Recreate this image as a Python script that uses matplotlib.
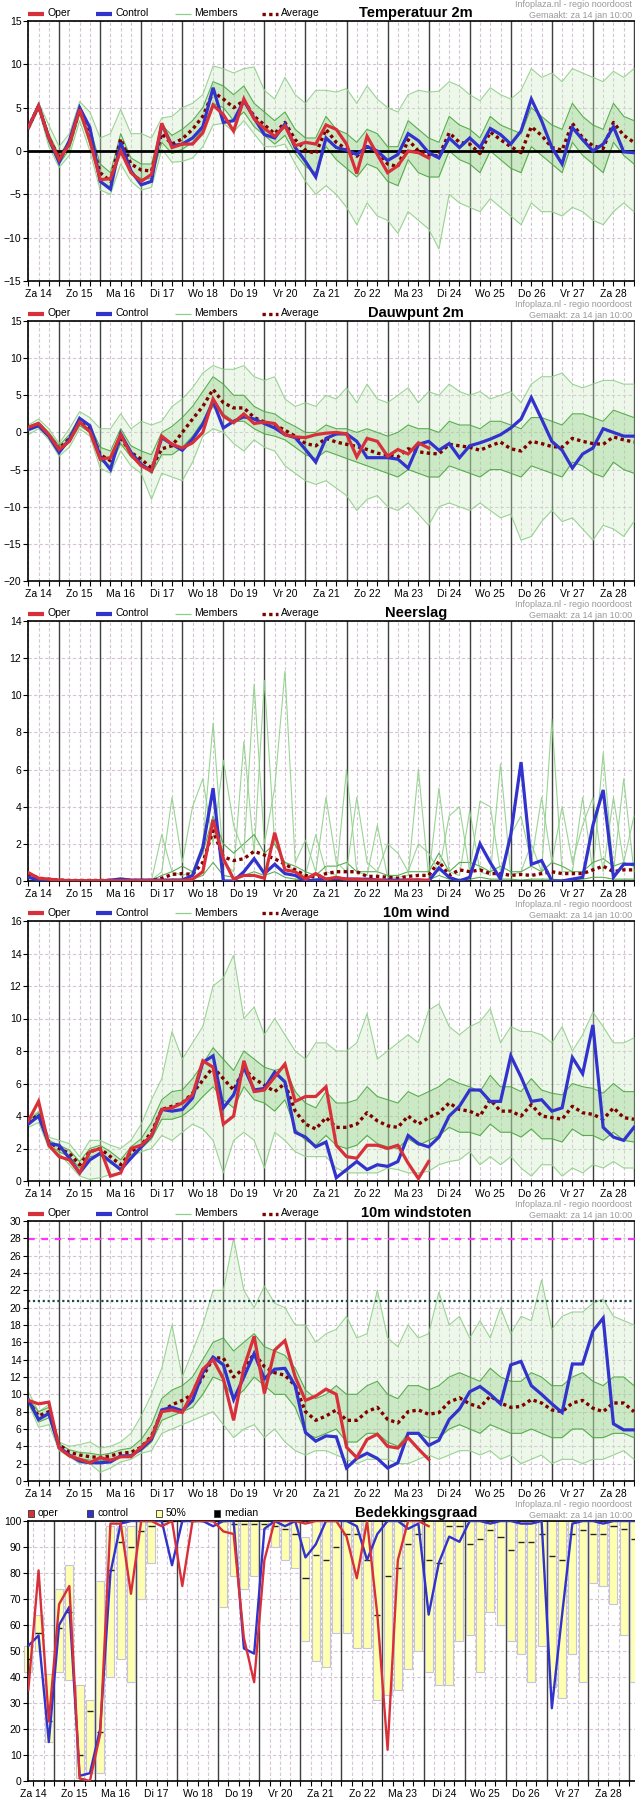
import numpy as np
import matplotlib
matplotlib.use('Agg')
import matplotlib.pyplot as plt
from matplotlib.lines import Line2D
from matplotlib.patches import Rectangle
from matplotlib import font_manager as fm

# ---------------- data (6-hourly steps) ----------------
day_labels = ['Za 14', 'Zo 15', 'Ma 16', 'Di 17', 'Wo 18', 'Do 19', 'Vr 20', 'Za 21',
              'Zo 22', 'Ma 23', 'Di 24', 'Wo 25', 'Do 26', 'Vr 27', 'Za 28']

# Temperatuur 2m
temp_oper = [2.7, 5.2, 1.5, -1.0, 0.8, 4.8, 1.2, -3.3, -3.2, 0.0,
             -2.5, -3.5, -2.7, 3.2, 0.4, 0.8, 0.8, 2.1, 5.3, 4.2,
             2.3, 6.0, 3.7, 2.6, 1.7, 2.9, 0.6, 1.0, 0.8, 3.0,
             2.5, 0.8, -2.6, 1.7, -0.4, -2.5, -1.7, 0.0, -0.2, -0.8]
temp_ctrl = [2.7, 5.2, 1.5, -1.3, 1.2, 5.0, 2.7, -3.5, -4.4, 1.0,
             -2.3, -3.9, -3.5, 3.1, 0.6, 0.8, 1.5, 2.8, 7.3, 3.3,
             3.5, 5.8, 3.8, 1.9, 1.5, 3.1, 0.4, -1.2, -3.0, 1.5,
             0.4, 0.1, -0.4, 0.5, 0.0, -1.1, -0.4, 2.0, 1.2, -0.2,
             -0.8, 1.5, 0.4, 1.5, 0.4, 2.6, 1.9, 0.8, 2.3, 6.0,
             3.5, 0.4, -1.5, 2.7, 1.3, 0.0, 0.8, 2.8, -0.1, -0.2]
temp_avg = [2.7, 5.2, 1.5, -0.8, 0.8, 4.8, 1.8, -2.5, -3.5, 1.4,
            -1.5, -2.2, -2.3, 2.0, 0.8, 1.4, 2.5, 4.0, 6.8, 6.0,
            5.0, 5.8, 4.0, 3.0, 2.0, 3.3, 1.3, 0.1, -0.3, 2.5,
            1.0, 0.2, -0.6, 0.5, 0.0, -1.5, -1.8, 1.3, 0.0, -0.4,
            -0.6, 2.1, 1.0, 0.8, -0.3, 2.2, 1.3, 0.5, -0.2, 2.8,
            1.8, 0.4, 0.1, 3.2, 1.5, 0.6, 0.3, 3.3, 1.8, 1.0]
temp_hi = [2.8, 5.6, 3.0, 0.5, 2.0, 5.7, 4.5, 1.5, 2.0, 4.8,
           2.0, 2.0, 1.5, 3.8, 4.0, 5.0, 5.5, 6.5, 9.8, 9.5,
           9.0, 9.5, 9.7, 7.0, 6.0, 8.5, 6.5, 5.5, 7.0, 7.0,
           6.8, 7.2, 5.5, 7.5, 6.0, 5.0, 4.5, 6.5, 7.0, 6.8,
           6.9, 8.0, 7.5, 6.5, 5.8, 7.3, 6.5, 6.0, 7.0, 9.5,
           8.5, 9.0, 8.0, 9.5, 9.0, 8.5, 8.0, 9.2, 8.5, 9.5]
temp_um = [2.8, 5.4, 2.0, -0.5, 1.2, 5.2, 2.8, -1.5, -2.5, 2.0,
           -0.8, -1.5, -1.5, 3.0, 1.8, 2.5, 3.5, 5.0, 8.0, 7.5,
           6.5, 7.5, 5.5, 4.5, 3.5, 4.5, 2.5, 1.5, 1.5, 4.0,
           2.5, 2.0, 1.0, 2.5, 2.0, 0.5, 0.5, 3.5, 2.5, 1.5,
           1.0, 4.0, 3.0, 2.5, 1.5, 4.0, 3.0, 2.5, 2.0, 5.0,
           4.0, 3.0, 2.5, 5.5, 4.0, 3.0, 2.5, 5.5, 4.0, 3.5]
temp_lm = [2.5, 5.0, 1.0, -1.5, 0.2, 4.3, 0.8, -3.5, -4.2, 0.5,
           -2.5, -3.2, -3.2, 1.0, -0.3, 0.2, 1.0, 2.5, 5.5, 5.0,
           3.5, 4.5, 2.8, 1.8, 0.8, 1.8, -0.3, -1.8, -2.5, 0.5,
           -1.0, -2.0, -3.0, -1.5, -2.0, -3.5, -4.0, -1.0, -2.5, -3.0,
           -3.0, 0.0, -1.0, -1.5, -2.5, 0.0, -1.0, -2.0, -2.5, 0.5,
           -0.5, -1.5, -2.5, 1.0, -0.5, -1.5, -2.5, 1.0, -0.5, -1.5]
temp_lo = [2.3, 4.8, 0.5, -1.9, -0.5, 3.5, 0.0, -4.5, -5.0, -1.5,
           -3.5, -4.5, -4.2, 0.2, -1.3, -1.2, -0.8, 0.5, 3.0, 3.2,
           2.2, 3.5, 2.0, 0.5, 0.5, 0.8, -1.5, -3.5, -5.0, -4.0,
           -5.0, -6.5, -8.5, -6.0, -7.5, -8.0, -9.5, -7.0, -8.0, -9.0,
           -11.3, -5.0, -6.0, -6.5, -7.0, -5.5, -6.5, -7.5, -8.5, -6.0,
           -7.0, -7.0, -7.5, -6.5, -7.0, -8.0, -8.5, -7.0, -6.0, -7.0]

# Dauwpunt 2m
dew_oper = [0.7, 1.2, -0.3, -2.3, -1.2, 1.4, 0.1, -3.6, -3.4, -0.3,
            -3.0, -4.5, -5.2, -0.5, -1.6, -2.1, -1.4, 0.0, 4.5, 2.2,
            1.3, 2.5, 1.2, 1.4, 1.2, -0.3, -0.6, -0.7, -0.3, -0.1,
            0.0, -0.2, -3.3, -0.8, -1.2, -3.2, -2.3, -2.9, -1.4, -2.1]
dew_ctrl = [0.4, 0.9, -0.5, -2.7, -0.9, 1.9, 0.9, -3.2, -5.0, -0.2,
            -2.7, -4.3, -5.2, -0.7, -1.6, -2.4, -0.9, 1.1, 4.2, 0.6,
            1.5, 2.1, 1.8, 1.2, 0.6, -0.3, -0.7, -2.3, -4.0, -0.8,
            -0.2, -0.2, -1.2, -3.4, -3.4, -3.4, -3.6, -4.8, -1.6, -1.2,
            -2.4, -1.5, -3.4, -1.8, -1.4, -0.9, -0.3, 0.6, 1.8, 4.7,
            1.8, -1.2, -2.4, -4.8, -2.9, -2.1, 0.5, 0.0, -0.5, -0.5]
dew_avg = [0.5, 1.1, -0.4, -2.2, -0.8, 1.4, 0.5, -3.0, -3.8, -0.8,
           -2.7, -3.6, -4.8, -2.2, -1.8, 0.0, 1.8, 3.5, 5.8, 4.0,
           3.3, 3.3, 2.0, 1.4, 1.0, 0.3, -0.5, -1.5, -1.8, -0.8,
           -1.3, -1.6, -1.9, -2.3, -2.8, -3.0, -3.3, -2.2, -2.6, -2.8,
           -2.9, -1.6, -1.8, -2.0, -2.4, -1.8, -1.3, -2.2, -2.5, -1.2,
           -1.5, -1.9, -2.0, -0.8, -1.2, -1.5, -1.6, -0.6, -1.0, -1.3]
dew_hi = [1.0, 1.8, 0.5, -1.5, 0.5, 2.8, 2.0, 0.5, 0.5, 2.5,
          0.5, 1.5, 1.0, 1.5, 3.5, 4.5, 6.0, 8.0, 9.0, 8.5,
          8.5, 9.0, 7.5, 7.0, 7.5, 4.5, 3.5, 4.0, 3.5, 5.0,
          4.5, 6.0, 4.0, 6.5, 4.5, 4.0, 5.0, 6.0, 4.0, 5.5,
          5.0, 6.5, 5.5, 5.0, 5.5, 4.5, 5.0, 5.5, 4.0, 6.5,
          7.5, 7.5, 8.0, 6.5, 6.0, 6.5, 7.0, 7.0, 6.5, 6.5]
dew_um = [0.8, 1.4, 0.0, -1.8, -0.3, 2.0, 1.0, -2.0, -2.5, 0.5,
          -1.8, -2.5, -3.0, 0.0, 0.8, 2.0, 3.5, 5.5, 7.5, 6.5,
          5.0, 5.0, 3.5, 2.8, 2.5, 1.5, 0.8, 0.0, 0.0, 1.0,
          0.5, 0.5, 0.0, 0.5, 0.0, -0.5, 0.0, 1.0, 0.5, 0.5,
          0.0, 1.5, 1.0, 1.0, 0.5, 1.5, 1.5, 1.0, 0.5, 2.0,
          2.0, 1.5, 1.0, 2.5, 2.5, 2.0, 1.5, 3.0, 2.5, 2.0]
dew_lm = [0.2, 0.8, -0.7, -2.6, -1.3, 0.9, 0.0, -3.8, -4.5, -1.5,
          -3.3, -4.3, -5.5, -3.0, -3.0, -2.0, -0.5, 1.5, 3.5, 2.5,
          1.5, 1.5, 0.5, -0.2, -0.5, -1.0, -2.0, -3.0, -3.5, -2.5,
          -3.0, -3.5, -4.0, -4.5, -5.0, -5.5, -6.0, -5.0, -5.5, -6.0,
          -6.0, -4.5, -5.0, -5.5, -6.0, -5.0, -5.0, -5.5, -6.0, -4.5,
          -5.0, -5.5, -6.0, -4.0, -4.5, -5.5, -6.0, -4.0, -5.0, -5.5]
dew_lo = [-0.3, 0.5, -1.0, -3.2, -2.0, 0.5, -0.5, -4.8, -5.5, -2.5,
          -4.5, -5.5, -9.0, -5.5, -6.0, -6.5, -4.0, -0.5, 0.5, 0.0,
          -1.5, -2.5, -1.0, -2.0, -2.5, -4.5, -5.5, -6.5, -7.0, -6.5,
          -7.5, -8.5, -10.5, -9.0, -8.5, -10.0, -10.5, -9.5, -11.0, -12.5,
          -10.0, -9.5, -10.0, -10.5, -9.5, -10.5, -11.5, -11.0, -14.5, -14.0,
          -12.0, -10.5, -12.0, -11.5, -13.0, -14.5, -12.5, -13.0, -14.0, -12.0]

# Neerslag
pr_oper = [0.45, 0.15, 0.1, 0.05, 0.02, 0.02, 0.02, 0.02, 0.02, 0.02,
           0.02, 0.02, 0.02, 0.02, 0.02, 0.02, 0.1, 0.5, 3.3, 1.2,
           0.1, 0.3, 0.3, 0.15, 2.6, 0.6, 0.5, 0.1, 0.4, 0.1,
           0.2, 0.1, 0.1, 0.05, 0.05, 0.0, 0.0, 0.05, 0.05, 0.05]
pr_ctrl = [0.2, 0.05, 0.0, 0.0, 0.0, 0.0, 0.0, 0.0, 0.05, 0.1,
           0.05, 0.05, 0.05, 0.05, 0.05, 0.05, 0.3, 1.8, 5.0, 0.0,
           0.0, 0.5, 1.2, 0.4, 0.9, 0.4, 0.3, 0.0, 0.05, 0.1,
           0.15, 0.1, 0.1, 0.1, 0.05, 0.05, 0.05, 0.05, 0.05, 0.0,
           0.7, 0.2, 0.0, 0.2, 2.0, 1.0, 0.1, 2.5, 6.4, 0.9,
           1.1, 0.0, 0.0, 0.1, 0.2, 3.0, 4.9, 0.2, 0.9, 0.9]
pr_avg = [0.4, 0.15, 0.1, 0.05, 0.03, 0.03, 0.03, 0.03, 0.03, 0.03,
          0.03, 0.03, 0.03, 0.15, 0.35, 0.4, 0.35, 1.0, 2.7, 1.3,
          1.1, 1.2, 1.6, 1.4, 1.2, 0.9, 0.6, 0.3, 0.2, 0.4,
          0.5, 0.5, 0.5, 0.25, 0.25, 0.2, 0.15, 0.25, 0.3, 0.3,
          1.05, 0.3, 0.6, 0.5, 0.6, 0.4, 0.4, 0.3, 0.35, 0.3,
          0.4, 0.5, 0.4, 0.4, 0.4, 0.6, 0.8, 0.5, 0.6, 0.6]
pr_m1 = [0.5, 0.2, 0.1, 0.05, 0.05, 0.05, 0.05, 0.05, 0.05, 0.2,
         0.05, 0.05, 0.05, 2.5, 0.5, 0.3, 0.5, 2.0, 8.5, 1.0,
         0.5, 7.5, 1.5, 10.8, 2.0, 1.0, 0.5, 0.3, 2.5, 0.5,
         0.3, 6.0, 0.5, 0.3, 3.0, 0.2, 0.2, 0.3, 6.0, 0.2,
         5.0, 0.5, 0.3, 3.8, 0.5, 0.3, 6.3, 0.3, 0.5, 2.0,
         0.5, 8.7, 0.5, 0.5, 4.5, 0.5, 6.9, 0.5, 5.5, 0.5]
pr_m2 = [0.4, 0.15, 0.05, 0.05, 0.05, 0.05, 0.05, 0.05, 0.05, 0.1,
         0.05, 0.05, 0.05, 0.5, 4.5, 1.0, 4.0, 5.5, 2.0, 6.5,
         3.0, 1.5, 10.6, 2.0, 5.0, 11.3, 1.0, 2.2, 0.5, 4.5,
         1.0, 0.5, 4.5, 1.0, 0.5, 2.0, 1.5, 0.5, 2.0, 1.5,
         0.5, 3.5, 4.0, 0.5, 4.3, 4.0, 0.5, 2.5, 3.5, 1.0,
         4.5, 1.0, 4.0, 1.0, 3.0, 4.5, 0.5, 4.5, 1.0, 3.5]
pr_m3 = [0.4, 0.1, 0.05, 0.05, 0.03, 0.03, 0.03, 0.03, 0.03, 0.05,
         0.03, 0.03, 0.03, 0.3, 0.5, 0.8, 0.5, 1.5, 3.5, 2.0,
         1.5, 2.0, 2.5, 1.5, 2.0, 1.0, 0.8, 0.5, 0.3, 0.8,
         0.8, 1.0, 0.5, 0.5, 0.5, 0.3, 0.3, 0.5, 0.5, 0.5,
         1.5, 0.5, 1.0, 1.0, 0.8, 0.5, 0.8, 0.5, 0.5, 0.8,
         0.5, 1.0, 0.8, 0.5, 0.5, 1.0, 1.2, 0.8, 1.0, 0.8]
pr_m4 = [0.3, 0.05, 0.0, 0.0, 0.0, 0.0, 0.0, 0.0, 0.0, 0.0,
         0.0, 0.0, 0.0, 0.0, 0.1, 0.1, 0.1, 0.3, 1.0, 0.3,
         0.2, 0.3, 0.5, 0.3, 0.5, 0.2, 0.1, 0.05, 0.1, 0.1,
         0.1, 0.1, 0.1, 0.05, 0.05, 0.05, 0.05, 0.05, 0.1, 0.05,
         0.3, 0.1, 0.1, 0.1, 0.2, 0.1, 0.1, 0.1, 0.05, 0.1,
         0.1, 0.1, 0.05, 0.1, 0.1, 0.2, 0.2, 0.1, 0.1, 0.1]

# 10m wind
wind_oper = [3.7, 4.9, 2.2, 1.5, 1.3, 0.5, 1.8, 2.0, 0.3, 0.5,
             2.0, 2.2, 2.8, 4.4, 4.5, 4.8, 5.3, 7.4, 7.0, 3.5,
             4.0, 7.4, 5.5, 5.6, 6.4, 7.2, 4.9, 5.2, 5.2, 5.8,
             2.2, 1.5, 1.4, 2.2, 2.2, 2.0, 2.2, 1.1, 0.15, 1.2]
wind_ctrl = [3.5, 4.0, 2.3, 2.2, 1.4, 0.5, 1.3, 1.7, 1.2, 0.7,
             1.4, 2.1, 2.8, 4.4, 4.3, 4.4, 5.1, 7.3, 7.7, 4.5,
             5.3, 7.0, 5.6, 5.7, 6.7, 6.1, 3.0, 2.7, 2.1, 2.4,
             0.2, 0.7, 1.2, 0.7, 1.0, 0.9, 1.2, 2.8, 2.3, 2.1,
             2.7, 4.0, 4.6, 5.6, 5.6, 4.9, 4.9, 7.7, 6.4, 4.9,
             5.0, 4.3, 4.5, 7.6, 6.6, 9.6, 3.3, 2.7, 2.5, 3.3]
wind_avg = [3.6, 4.1, 2.4, 2.0, 1.7, 1.0, 1.8, 2.0, 1.5, 1.0,
            1.8, 2.2, 3.0, 4.4, 4.6, 4.8, 5.4, 6.2, 7.0, 6.3,
            5.6, 6.9, 6.3, 5.9, 5.5, 6.0, 4.3, 3.5, 3.2, 3.9,
            3.3, 3.3, 3.5, 4.2, 3.7, 3.4, 3.3, 4.0, 3.5, 3.9,
            4.2, 4.8, 4.4, 4.3, 4.0, 5.0, 4.3, 4.3, 4.0, 4.7,
            4.0, 3.9, 3.8, 4.6, 4.2, 4.1, 3.8, 4.5, 3.9, 3.8]
wind_hi = [3.8, 4.3, 2.7, 2.5, 2.3, 1.5, 2.5, 2.5, 2.2, 2.0,
           2.5, 3.5, 5.0, 6.3, 9.2, 7.5, 8.5, 9.5, 12.0, 12.5,
           13.9, 10.0, 10.7, 9.0, 10.0, 9.0, 8.0, 7.5, 8.5, 8.5,
           8.0, 8.0, 8.5, 10.3, 7.5, 8.0, 8.5, 9.0, 8.5, 10.5,
           10.9, 9.5, 9.0, 9.5, 9.8, 10.6, 8.5, 9.5, 9.2, 9.2,
           9.0, 8.5, 9.5, 8.0, 9.0, 10.4, 9.5, 8.5, 8.5, 8.8]
wind_um = [3.7, 4.2, 2.5, 2.2, 1.9, 1.2, 2.0, 2.2, 1.8, 1.3,
           2.1, 2.6, 3.6, 5.0, 5.5, 5.6, 6.3, 7.2, 8.2, 7.5,
           6.8, 8.0, 7.5, 7.0, 6.8, 7.0, 5.5, 4.8, 4.5, 5.5,
           4.8, 4.8, 5.0, 5.8, 5.2, 5.0, 4.8, 5.5, 5.2, 5.5,
           5.8, 6.3, 6.0, 5.8, 5.5, 6.5, 5.8, 5.8, 5.5, 6.3,
           5.6, 5.4, 5.3, 6.0, 5.8, 5.7, 5.4, 6.0, 5.5, 5.5]
wind_lm = [3.5, 3.9, 2.2, 1.8, 1.5, 0.8, 1.5, 1.6, 1.1, 0.8,
           1.6, 2.0, 2.6, 3.8, 3.8, 4.0, 4.5, 5.2, 5.8, 5.0,
           4.5, 5.8, 5.0, 4.8, 4.3, 5.0, 3.2, 2.5, 2.2, 2.8,
           2.2, 2.0, 2.2, 2.8, 2.3, 2.1, 2.0, 2.6, 2.2, 2.5,
           2.8, 3.3, 3.0, 3.0, 2.8, 3.5, 3.0, 3.0, 2.7, 3.2,
           2.6, 2.6, 2.4, 3.2, 2.8, 2.8, 2.5, 3.0, 2.5, 2.4]
wind_lo = [3.3, 3.6, 2.0, 1.7, 1.0, 0.3, 0.1, 0.2, 0.4, 0.5,
           1.5, 1.8, 2.0, 2.8, 2.5, 3.0, 3.5, 3.2, 2.5, 0.5,
           2.5, 3.0, 2.5, 0.8, 3.0, 2.5, 1.8, 1.5, 1.5, 1.5,
           0.8, 0.5, 0.5, 0.5, 0.5, 0.8, 0.7, 0.5, 0.5, 0.6,
           1.0, 1.2, 1.3, 1.8, 1.0, 1.5, 1.0, 1.5, 0.8, 0.3,
           1.0, 1.0, 0.3, 0.8, 0.5, 1.0, 0.8, 1.2, 0.8, 0.8]

# 10m windstoten
gust_oper = [9.3, 8.9, 9.1, 3.8, 2.9, 2.5, 2.1, 2.7, 2.4, 2.8,
             2.8, 3.9, 5.0, 8.0, 8.2, 7.9, 10.2, 12.9, 14.0, 11.8,
             7.0, 13.1, 16.7, 10.1, 15.1, 16.2, 12.0, 9.3, 9.8, 10.6,
             10.0, 3.9, 2.7, 4.8, 5.4, 4.0, 3.8, 5.0, 3.7, 2.5]
gust_ctrl = [9.4, 7.1, 7.8, 3.9, 3.0, 2.3, 2.1, 2.1, 2.2, 2.9,
             2.9, 3.7, 4.8, 8.2, 8.5, 8.1, 9.3, 12.5, 14.3, 13.4,
             9.4, 12.0, 14.7, 11.8, 12.9, 13.0, 11.0, 5.6, 4.6, 5.2,
             5.1, 1.5, 2.6, 3.2, 2.6, 1.5, 2.1, 5.5, 5.5, 4.1,
             4.7, 7.1, 8.3, 10.3, 10.9, 10.0, 8.9, 13.4, 13.8, 11.0,
             10.0, 8.9, 7.9, 13.5, 13.5, 17.3, 18.8, 6.6, 5.9, 5.9]
gust_avg = [9.2, 7.5, 8.0, 4.2, 3.3, 3.0, 2.8, 2.7, 2.9, 3.2,
            3.3, 3.9, 5.2, 8.0, 8.8, 9.3, 10.0, 12.0, 14.2, 14.2,
            12.0, 13.0, 14.7, 13.2, 12.5, 12.2, 11.0, 8.0, 7.0, 7.5,
            8.2, 7.0, 7.0, 8.0, 8.5, 7.1, 6.7, 8.0, 8.2, 7.7,
            7.9, 9.1, 9.6, 8.9, 8.5, 9.8, 9.0, 8.5, 8.6, 9.4,
            9.0, 8.2, 8.0, 9.0, 9.3, 8.4, 8.0, 9.0, 9.0, 8.0]
gust_hi = [10.3, 8.0, 8.8, 4.5, 4.0, 4.2, 4.5, 3.8, 4.0, 4.5,
           5.5, 7.5, 10.0, 13.0, 18.0, 12.0, 15.0, 18.0, 22.0, 22.0,
           28.0, 22.0, 20.0, 22.5, 20.5, 20.0, 18.0, 18.0, 16.0, 17.0,
           17.5, 19.0, 16.5, 17.0, 22.0, 16.5, 15.5, 18.0, 16.5, 17.0,
           21.8, 18.0, 19.0, 16.5, 18.5, 16.5, 20.0, 17.0, 19.0, 18.5,
           23.2, 17.5, 19.0, 19.5, 19.5, 20.5, 21.0, 19.0, 18.5, 18.0]
gust_um = [9.5, 8.0, 8.5, 4.3, 3.6, 3.3, 3.2, 3.0, 3.2, 3.6,
           3.8, 4.8, 6.5, 9.5, 10.5, 11.0, 12.0, 14.0, 16.0, 16.5,
           15.0, 16.0, 17.0, 15.5, 15.0, 14.5, 13.0, 10.5, 9.5, 10.0,
           11.0, 10.0, 10.0, 11.0, 11.5, 10.0, 9.5, 11.0, 11.0, 10.5,
           11.0, 12.0, 12.5, 12.0, 11.5, 13.0, 12.0, 11.5, 11.5, 12.5,
           12.0, 11.0, 11.0, 12.0, 12.5, 11.5, 11.0, 12.0, 12.0, 11.0]
gust_lm = [9.0, 6.8, 7.3, 3.8, 3.0, 2.6, 2.4, 2.3, 2.5, 2.8,
           3.0, 3.5, 4.5, 7.0, 7.5, 8.0, 8.5, 10.0, 12.0, 11.5,
           9.5, 10.5, 12.0, 11.0, 10.0, 10.0, 8.5, 5.5, 5.0, 5.5,
           6.0, 4.5, 4.5, 5.5, 5.5, 4.5, 4.0, 5.5, 5.5, 5.0,
           5.0, 6.0, 6.5, 6.0, 5.5, 6.5, 6.0, 5.5, 5.5, 6.0,
           5.5, 5.0, 5.0, 6.0, 6.0, 5.0, 5.0, 5.5, 5.5, 5.0]
gust_lo = [9.0, 6.2, 6.5, 3.5, 2.8, 2.0, 2.0, 1.0, 1.5, 2.2,
           2.5, 3.2, 3.5, 5.5, 6.0, 6.5, 7.0, 7.5, 8.0, 6.5,
           5.0, 6.0, 6.5, 5.0, 6.0, 4.5, 3.5, 3.0, 3.5, 3.5,
           3.0, 2.5, 2.0, 2.5, 2.5, 2.5, 2.0, 2.0, 2.5, 3.0,
           2.5, 3.0, 3.5, 3.5, 3.0, 3.5, 2.5, 3.0, 2.0, 2.5,
           3.0, 2.0, 2.5, 2.5, 2.0, 2.5, 2.5, 3.0, 3.5, 2.5]
gust_warn_hi = 27.9
gust_warn_lo = 20.8

# Bedekkingsgraad (6-hourly, starting 09 UTC)
cc_oper = [35, 81, 23, 68, 75, 1, 0, 18, 99, 99,
           72, 100, 100, 98, 100, 75, 100, 100, 100, 96,
           95, 55, 38, 85, 100, 100, 100, 99, 100, 100,
           100, 94, 78, 100, 64, 12, 85, 100, 100, 98]
cc_ctrl = [52, 56, 15, 60, 67, 2, 3, 20, 80, 99,
           100, 100, 100, 100, 83, 100, 100, 100, 98, 100,
           100, 51, 49, 97, 100, 98, 100, 86, 91, 100,
           100, 100, 98, 85, 95, 100, 100, 97, 99, 64,
           84, 94, 92, 100, 100, 99, 100, 100, 99, 99,
           100, 28, 64, 99, 100, 100, 99, 100, 100, 100]
cc_lo = [42, 50, 15, 42, 39, 1, 3, 3, 40, 47,
         38, 70, 84, 100, 100, 100, 100, 100, 100, 67,
         79, 74, 79, 97, 90, 85, 82, 54, 46, 44,
         57, 57, 51, 51, 31, 33, 35, 43, 50, 42,
         37, 37, 54, 56, 42, 65, 60, 54, 49, 38,
         52, 36, 32, 49, 38, 76, 75, 68, 56, 38]
cc_hi = [52, 64, 41, 74, 83, 37, 31, 77, 98, 98,
         98, 100, 100, 100, 100, 100, 100, 100, 100, 100,
         100, 100, 100, 100, 100, 100, 100, 94, 100, 100,
         100, 100, 100, 100, 100, 100, 100, 100, 100, 100,
         100, 100, 100, 100, 100, 100, 100, 100, 100, 100,
         100, 100, 100, 100, 100, 100, 100, 100, 100, 100]
cc_med = [47, 57, 23, 59, 65, 10, 27, 19, 81, 92,
          90, 96, 98, 100, 100, 100, 100, 100, 100, 100,
          99, 99, 98.7, 98.7, 98, 96.8, 94.9, 78, 87, 85,
          90, 95, 95, 85, 64, 79, 82, 91, 95, 85,
          84, 98, 98, 91, 93, 96.5, 94, 89, 92, 92,
          95, 86.5, 85, 95, 96.5, 95, 95, 98, 97, 93]

# ---------------- styling ----------------
W, H = 635, 1800
AX_L, AX_T, AX_B = 28.3, 21, 281
T_MAX = 59.1

RED = '#d8303a'
BLUE = '#3232cc'
AVG = '#800000'
MEM_LIGHT = '#8fd088'
MEM_DARK = '#4aa640'
GRID = '#d4c4d4'
DAYLINE = '#404040'


def pick_font(names):
    for n in names:
        try:
            fm.findfont(fm.FontProperties(family=n), fallback_to_default=False)
            return n
        except Exception:
            pass
    return 'DejaVu Sans'


BASE = pick_font(['Liberation Sans', 'Arial', 'DejaVu Sans'])
NARROW = pick_font(['Liberation Sans Narrow', 'Liberation Sans', 'DejaVu Sans'])
plt.rcParams['font.family'] = [BASE, 'DejaVu Sans']
plt.rcParams['font.size'] = 7.5

fig = plt.figure(figsize=(W / 100, H / 100), dpi=100)


def fx(x):
    return x / W


def fy(y):
    return 1 - y / H


def make_axes(i, ylim, yticks, start_off):
    top = 300 * i
    ax = fig.add_axes([fx(AX_L), fy(top + AX_B), 1 - fx(AX_L), (AX_B - AX_T) / H])
    ax.set_xlim(0, T_MAX)
    ax.set_ylim(*ylim)
    ax.set_yticks(yticks)
    steps = np.arange(start_off, T_MAX, 1.0)
    days = np.arange(start_off + (3 if start_off == 0 else 2), T_MAX + 0.01, 4.0)
    labels_at = np.arange(start_off + 1 if start_off == 0 else start_off, T_MAX, 4.0)
    for y in yticks:
        ax.axhline(y, color=GRID, lw=0.8, ls=(0, (3, 2)), zorder=0)
    for x in steps:
        ax.axvline(x, color=GRID, lw=0.8, ls=(0, (3, 2)), zorder=0)
    for x in days:
        ax.axvline(x, color=DAYLINE, lw=1.0, zorder=1)
    ax.set_xticks(labels_at)
    ax.set_xticklabels(day_labels[:len(labels_at)])
    ax.set_xticks(steps, minor=True)
    ax.tick_params(axis='both', which='both', direction='out', length=3.5, width=0.8,
                   colors='black', labelsize=7.5, pad=1.5)
    ax.tick_params(axis='x', which='major', pad=2.5)
    for s in ['left', 'bottom', 'top']:
        ax.spines[s].set_linewidth(1.2)
    ax.spines['right'].set_visible(False)
    return ax


def header(i, title, legend_items):
    top = 300 * i
    for kind, color, label, x0 in legend_items:
        if kind == 'line':
            ls, lw = color[1], color[2]
            fig.add_artist(Line2D([fx(x0), fx(x0 + 16)], [fy(top + 13.5)] * 2,
                                  color=color[0], lw=lw, ls=ls, solid_capstyle='butt'))
            fig.text(fx(x0 + 19), fy(top + 13.5), label, va='center', ha='left', fontsize=7.5)
        else:
            fig.add_artist(Rectangle((fx(x0), fy(top + 17)), 6 / W, 7 / H,
                                     facecolor=color, edgecolor='#333333', lw=0.6))
            fig.text(fx(x0 + 10), fy(top + 13.5), label, va='center', ha='left', fontsize=7.5)
    fig.text(fx(416), fy(top + 13), title, ha='center', va='center', fontsize=10.5,
             fontweight='bold', family=[NARROW, 'DejaVu Sans'])
    fig.text(fx(632), fy(top + 4.5), 'Infoplaza.nl - regio noordoost', ha='right',
             va='center', fontsize=6.5, color='#999999', family=[NARROW, 'DejaVu Sans'])
    fig.text(fx(632), fy(top + 15), 'Gemaakt: za 14 jan 10:00', ha='right',
             va='center', fontsize=6.5, color='#999999', family=[NARROW, 'DejaVu Sans'])


ENS_LEGEND = [('line', (RED, '-', 3.0), 'Oper', 28),
              ('line', (BLUE, '-', 3.0), 'Control', 96),
              ('line', (MEM_LIGHT, '-', 0.9), 'Members', 175),
              ('line', (AVG, (0, (1, 1)), 2.4), 'Average', 262)]


def ens_panel(i, title, oper, ctrl, avg, members, ylim, yticks, band=None, extra=None):
    ax = make_axes(i, ylim, yticks, 0)
    t = np.arange(len(ctrl))
    if band is not None:
        # spread of the many thin member lines: outer range and dense core
        ax.fill_between(t, members[-1], members[0], color='#cdebc4', alpha=0.35, lw=0, zorder=1.5)
        ax.fill_between(t, members[2], members[1], color='#8fce80', alpha=0.35, lw=0, zorder=1.6)
    for k, m in enumerate(members):
        c = MEM_DARK if k in (1, 2) else MEM_LIGHT
        ax.plot(t, m, color=c, lw=0.8, alpha=0.9, zorder=2)
    if extra:
        extra(ax)
    ax.plot(t, avg, color=AVG, lw=2.4, ls=(0, (1, 1)), zorder=3)
    ax.plot(t, ctrl, color=BLUE, lw=2.3, zorder=4, solid_joinstyle='miter')
    ax.plot(np.arange(len(oper)), oper, color=RED, lw=2.3, zorder=5, solid_joinstyle='miter')
    header(i, title, ENS_LEGEND)
    return ax


def zero_line(ax):
    ax.axhline(0, color='black', lw=2.0, zorder=2.5)


def warn_lines(ax):
    ax.axhline(gust_warn_hi, color='#ff33ff', lw=1.6, ls=(0, (3, 3)), zorder=2.5)
    ax.axhline(gust_warn_lo, color='#1f4a4a', lw=1.6, ls=(0, (1, 1.2)), zorder=2.5)


ens_panel(0, 'Temperatuur 2m', temp_oper, temp_ctrl, temp_avg,
          [temp_hi, temp_um, temp_lm, temp_lo], (-15, 15), np.arange(-15, 16, 5),
          band=True, extra=zero_line)
ens_panel(1, 'Dauwpunt 2m', dew_oper, dew_ctrl, dew_avg,
          [dew_hi, dew_um, dew_lm, dew_lo], (-20, 15), np.arange(-20, 16, 5),
          band=True)
ens_panel(2, 'Neerslag', pr_oper, pr_ctrl, pr_avg,
          [pr_m1, pr_m3, pr_m4, pr_m2], (0, 14), np.arange(0, 15, 2))
ens_panel(3, '10m wind', wind_oper, wind_ctrl, wind_avg,
          [wind_hi, wind_um, wind_lm, wind_lo], (0, 16), np.arange(0, 17, 2),
          band=True)
ens_panel(4, '10m windstoten', gust_oper, gust_ctrl, gust_avg,
          [gust_hi, gust_um, gust_lm, gust_lo], (0, 30), np.arange(0, 31, 2),
          band=True, extra=warn_lines)

# cloud cover panel
ax = make_axes(5, (0, 100), np.arange(0, 101, 10), 0.5)
k = np.arange(len(cc_ctrl))
lo = np.array(cc_lo, float)
hi = np.array(cc_hi, float)
ax.bar(k, hi - lo, bottom=lo, width=0.78, color='#ffffb0', edgecolor='#c4c4dc',
       lw=0.8, zorder=2, clip_on=False)
ax.hlines(cc_med, k - 0.3, k + 0.3, color='#222222', lw=1.0, zorder=2.5)
ax.plot(k, cc_ctrl, color=BLUE, lw=1.7, zorder=4)
ax.plot(np.arange(len(cc_oper)), cc_oper, color=RED, lw=1.7, zorder=5)
header(5, 'Bedekkingsgraad', [('box', RED, 'oper', 28),
                              ('box', BLUE, 'control', 87),
                              ('box', '#ffffa0', '50%', 156),
                              ('box', 'black', 'median', 214)])

fig.savefig('out.png', dpi=100)
